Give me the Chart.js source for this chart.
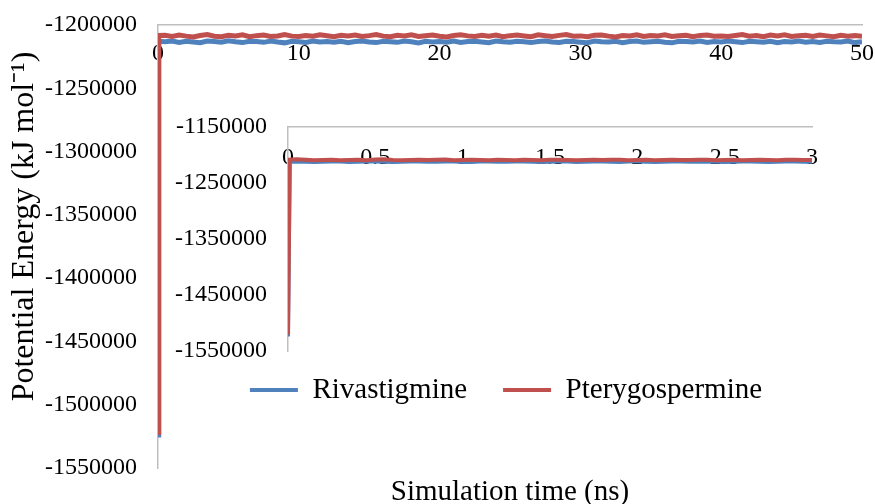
<!DOCTYPE html>
<html>
<head>
<meta charset="utf-8">
<script src="https://cdn.jsdelivr.net/npm/chart.js@4.4.0/dist/chart.umd.min.js"></script>
<style>
  html, body { margin: 0; padding: 0; background: #fff; }
  #wrap { position: relative; width: 875px; height: 504px; }
  #mainChart { position: absolute; left: 0; top: 0; }
  #insetChart { position: absolute; left: 160px; top: 100px; }
</style>
</head>
<body>
<div id="wrap">
  <canvas id="mainChart" width="875" height="504"></canvas>
  <canvas id="insetChart" width="692" height="326"></canvas>
</div>
<script>
// time axis: minimised start, first MD frame, then the plateau every 0.5 ns (main) / 0.05 ns (inset)
const mainStartTimes = [0, 0.05];
const mainStep = 0.5;
const insetStartTimes = [0, 0.01];
const insetStep = 0.05;

const rivaMain = [-1524000, -1212800,
  -1213200, -1212600, -1213800, -1212900, -1213400, -1214000, -1212700, -1213100, -1213600, -1212500,
  -1213300, -1213900, -1212800, -1213000, -1213700, -1212600, -1213500, -1214100, -1212900, -1213200,
  -1213800, -1212700, -1213400, -1213000, -1213600, -1212800, -1214000, -1213100, -1212600, -1213500,
  -1213900, -1212900, -1213300, -1213700, -1212700, -1213200, -1214100, -1212800, -1213400, -1213000,
  -1213600, -1212600, -1213800, -1213100, -1212900, -1213500, -1214000, -1212700, -1213300, -1213700,
  -1212800, -1213200, -1213900, -1213000, -1212600, -1213400, -1213800, -1212900, -1213100, -1213600,
  -1214000, -1212700, -1213300, -1213500, -1212800, -1213900, -1213000, -1212600, -1213700, -1213200,
  -1212900, -1213600, -1214100, -1212800, -1213100, -1213400, -1212700, -1213800, -1213000, -1213500,
  -1212600, -1213300, -1213900, -1212900, -1213200, -1213700, -1212800, -1214000, -1213100, -1213400,
  -1212700, -1213600, -1213000, -1213800, -1212900, -1213300, -1213500, -1212600, -1213900, -1213200];

const pteryMain = [-1522000, -1208300,
  -1208200, -1209100, -1207900, -1208800, -1209400, -1208300, -1207600, -1208900, -1209200, -1208100,
  -1208600, -1207800, -1209300, -1208400, -1208000, -1209000, -1208700, -1207500, -1208800, -1209100,
  -1208300, -1208900, -1207700, -1208500, -1209200, -1208100, -1208600, -1207900, -1209000, -1208400,
  -1207600, -1208800, -1209300, -1208200, -1208700, -1207800, -1209100, -1208500, -1208000, -1208900,
  -1209400, -1208300, -1207700, -1208600, -1209000, -1208100, -1208800, -1207900, -1209200, -1208400,
  -1208000, -1208700, -1209300, -1207800, -1208500, -1209100, -1208200, -1207600, -1208900, -1208600,
  -1209200, -1208100, -1207900, -1208800, -1209400, -1208300, -1208600, -1207700, -1209000, -1208400,
  -1208700, -1207800, -1209100, -1208500, -1208100, -1209300, -1208200, -1207900, -1208800, -1208600,
  -1209000, -1208300, -1207600, -1208900, -1208400, -1209200, -1208000, -1208700, -1207800, -1209100,
  -1208500, -1208200, -1209000, -1207900, -1208600, -1209300, -1208100, -1208800, -1208400, -1208900];

const rivaInset = [-1524000, -1212000,
  -1211600, -1212100, -1212400, -1211900, -1211500, -1211800, -1212300, -1212200, -1211700, -1211400,
  -1211900, -1212500, -1212100, -1211600, -1211800, -1212200, -1211900, -1211500, -1211700, -1212300,
  -1212400, -1211800, -1211600, -1212000, -1212200, -1211700, -1211400, -1211900, -1212300, -1212100,
  -1211600, -1211800, -1212400, -1212200, -1211700, -1211500, -1212000, -1212300, -1211800, -1211600,
  -1212100, -1212400, -1211900, -1211500, -1211800, -1212200, -1212000, -1211600, -1211900, -1212300,
  -1212100, -1211700, -1211500, -1212000, -1212400, -1211900, -1211600, -1211800, -1212200, -1211900];

const pteryInset = [-1521000, -1208500,
  -1207800, -1208600, -1209300, -1209000, -1208700, -1209400, -1209100, -1208500, -1209200, -1208000,
  -1207600, -1208900, -1209500, -1208800, -1208300, -1209100, -1208600, -1208200, -1209300, -1209000,
  -1208400, -1208800, -1209400, -1208700, -1208900, -1209200, -1208500, -1208800, -1209300, -1208600,
  -1208300, -1209000, -1209400, -1208900, -1208500, -1209100, -1208700, -1208400, -1209200, -1208800,
  -1208500, -1209300, -1208900, -1208300, -1208800, -1209100, -1208600, -1208400, -1209200, -1209000,
  -1208700, -1209300, -1208800, -1208500, -1209000, -1209400, -1208700, -1208600, -1209100, -1208800];

const seriesNames = ["Rivastigmine", "Pterygospermine"];
const seriesColors = ["#4F81BD", "#C0504D"];

const mainXTicks = { min: 0, max: 50, step: 10 };
const mainYTicks = { min: -1550000, max: -1200000, step: 50000 };
const insetXTicks = { min: 0, max: 3, step: 0.5 };
const insetYTicks = { min: -1550000, max: -1150000, step: 100000 };

function buildTimes(start, step, total) {
  const t = start.slice();
  for (let i = 1; t.length < total; i++) t.push(+(i * step).toFixed(3));
  return t;
}
const mainTimes = buildTimes(mainStartTimes, mainStep, rivaMain.length);
const insetTimes = buildTimes(insetStartTimes, insetStep, rivaInset.length);

const toXY = (times, vals) => vals.map((v, i) => ({ x: times[i], y: v }));

Chart.defaults.font.family = '"Liberation Serif", "Times New Roman", serif';
Chart.defaults.color = "#000";

const gray = "#BFBFBF";
const tickFont = { size: 24 };
const numLabel = v => String(+(+v).toFixed(2));
// label offsets come from an invisible tick mark so they don't inflate the layout padding
const hiddenTicks = len => ({ display: false, drawTicks: true, tickLength: len, tickColor: "rgba(0,0,0,0)" });

function makeDatasets(times, riva, ptery, width) {
  return [
    { label: seriesNames[0], data: toXY(times, riva), borderColor: seriesColors[0], backgroundColor: seriesColors[0],
      borderWidth: width, pointRadius: 0, tension: 0, order: 2 },
    { label: seriesNames[1], data: toXY(times, ptery), borderColor: seriesColors[1], backgroundColor: seriesColors[1],
      borderWidth: width, pointRadius: 0, tension: 0, order: 1 }
  ];
}

new Chart(document.getElementById("mainChart"), {
  type: "line",
  data: { datasets: makeDatasets(mainTimes, rivaMain, pteryMain, 5) },
  options: {
    responsive: false,
    animation: false,
    layout: { padding: { left: 0, top: 25, right: 13, bottom: 0 } },
    plugins: {
      legend: { display: false },
      tooltip: { enabled: false },
      title: {
        display: true, text: "Simulation time (ns)", position: "bottom", fullSize: false,
        font: { size: 29, weight: "normal", lineHeight: 1 }, padding: { top: 10, bottom: -3 }
      }
    },
    scales: {
      x: {
        type: "linear", position: { y: mainYTicks.max },
        min: mainXTicks.min, max: mainXTicks.max,
        ticks: { stepSize: mainXTicks.step, font: tickFont, padding: 0, maxRotation: 0, callback: numLabel },
        grid: hiddenTicks(14),
        border: { display: true, color: gray, width: 1.5 },
        afterFit: s => { s.height = 0; }
      },
      y: {
        type: "linear", position: "left",
        min: mainYTicks.min, max: mainYTicks.max,
        ticks: { stepSize: mainYTicks.step, font: tickFont, padding: 0, callback: numLabel },
        grid: hiddenTicks(21),
        border: { display: true, color: gray, width: 1.5 },
        title: { display: true, text: "\u00A0\u00A0\u00A0\u00A0\u00A0Potential Energy (kJ mol\u207B\u00B9)",
                 font: { size: 32 }, padding: { top: 5, bottom: 0 } },
        afterFit: s => { s.width = 158; }
      }
    }
  }
});

new Chart(document.getElementById("insetChart"), {
  type: "line",
  data: { datasets: makeDatasets(insetTimes, rivaInset, pteryInset, 4) },
  options: {
    responsive: false,
    animation: false,
    layout: { padding: { left: 0, top: 27, right: 0, bottom: 0 } },
    plugins: {
      tooltip: { enabled: false },
      legend: {
        position: "bottom",
        labels: {
          usePointStyle: true, pointStyle: "line", pointStyleWidth: 48,
          padding: 36, font: { size: 29 },
          sort: (a, b) => a.datasetIndex - b.datasetIndex
        }
      }
    },
    scales: {
      x: {
        type: "linear", position: { y: insetYTicks.max }, z: 1,
        min: insetXTicks.min, max: insetXTicks.max,
        ticks: { stepSize: insetXTicks.step, font: tickFont, padding: 0, maxRotation: 0, callback: numLabel },
        grid: hiddenTicks(16),
        border: { display: true, color: gray, width: 1.5 }
      },
      y: {
        type: "linear", position: "left",
        min: insetYTicks.min, max: insetYTicks.max,
        ticks: { stepSize: insetYTicks.step, font: tickFont, padding: 0, callback: numLabel },
        grid: hiddenTicks(21),
        border: { display: true, color: gray, width: 1.5 },
        afterFit: s => { s.width = 128; }
      },
      // empty boxes: right margin of the plot, and pulling the legend up toward the axis
      spacer: {
        type: "linear", position: "right", display: false,
        afterFit: s => { s.width = 40; }
      },
      legendLift: {
        type: "linear", axis: "x", position: "bottom", display: false,
        afterFit: s => { s.height = -11.5; }
      }
    }
  }
});
</script>
</body>
</html>
